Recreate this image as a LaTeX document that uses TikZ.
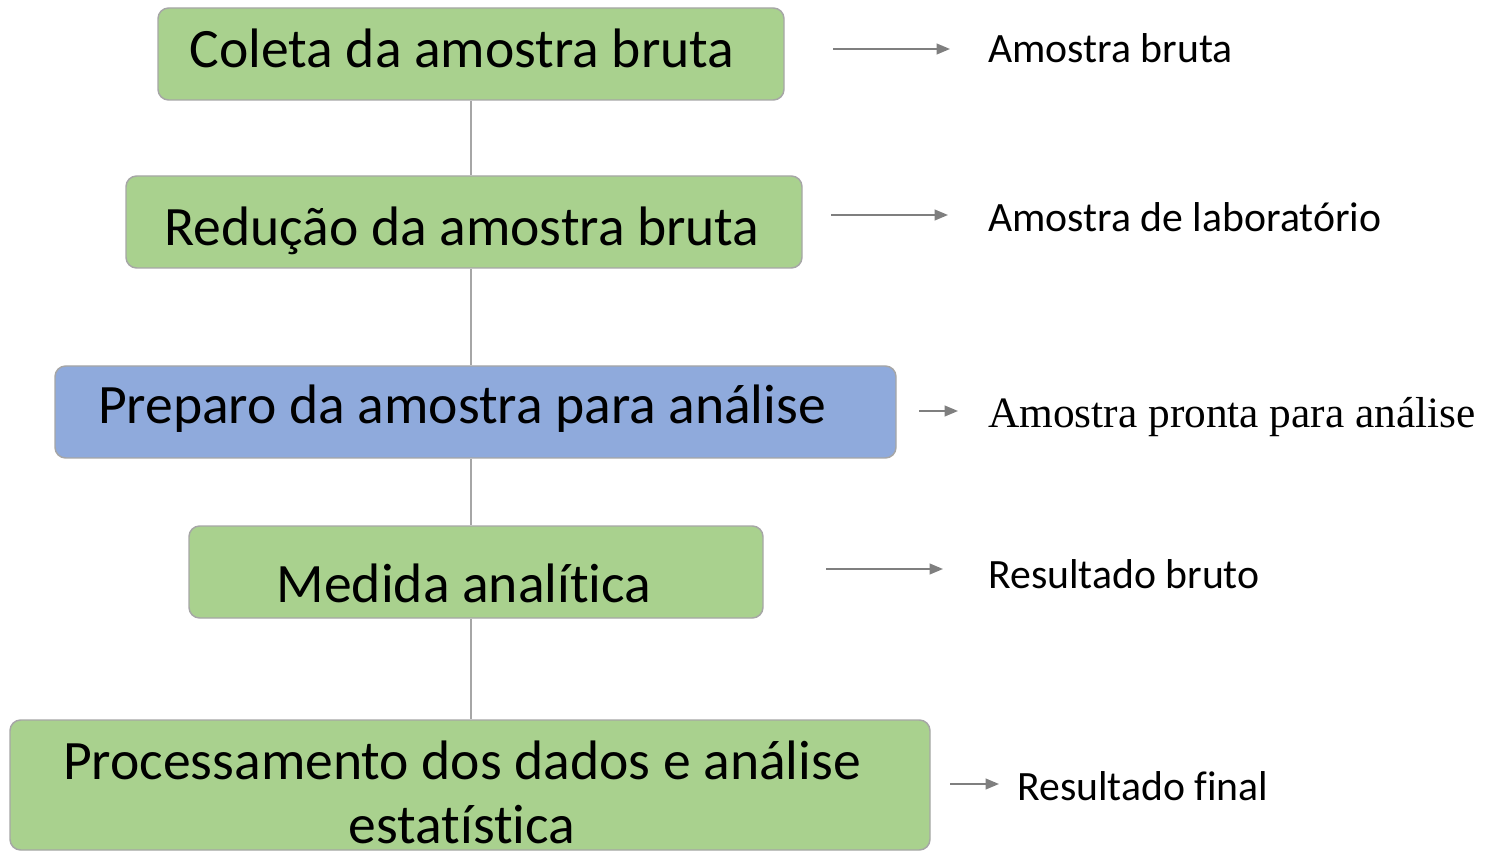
\documentclass[tikz,border=0pt]{standalone}
\usepackage{fontspec}
\setmainfont{Carlito}[Ligatures=NoCommon]
\newfontfamily\timesfont{Liberation Serif}
\usetikzlibrary{arrows.meta,fit}

\definecolor{stepgreen}{HTML}{A9D18E}
\definecolor{stepblue}{HTML}{8FAADC}
\definecolor{edgegray}{HTML}{A6A6A6}
\definecolor{arrowgray}{HTML}{7F7F7F}

\tikzset{
    stepbox/.style={draw=edgegray, line width=1.1pt, rounded corners=8pt, fill=stepgreen, inner sep=0pt},
    steptext/.style={anchor=base, inner sep=0pt, font=\fontsize{41.7}{48}\selectfont},
    outlabel/.style={anchor=base west, inner sep=0pt, font=\fontsize{31.3}{37}\selectfont},
    outarrow/.style={draw=arrowgray, line width=1.5pt, -{Triangle[length=10pt,width=8pt]}},
    stemline/.style={draw=edgegray, line width=1.5pt},
}

\begin{document}
\begin{tikzpicture}[x=0.75pt, y=-0.75pt]
    \useasboundingbox (0,0) rectangle (1490,852);

    % Steps of the analysis
    \node[stepbox, fit={(158,8) (784,100)}] (coleta) {};
    \node[stepbox, fit={(126,176) (802,268)}] (reducao) {};
    \node[stepbox, fill=stepblue, fit={(55,366) (896,458)}] (preparo) {};
    \node[stepbox, fit={(189,526) (763,618)}] (medida) {};
    \node[stepbox, fit={(10,720) (930,850)}] (processo) {};

    \node[steptext] (coleta-txt) at (462,68) {Coleta da amostra bruta};
    \node[steptext] (reducao-txt) at (462,246) {Redução da amostra bruta};
    \node[steptext] (preparo-txt) at (462,424) {Preparo da amostra para análise};
    \node[steptext] (medida-txt) at (464,602) {Medida analítica};
    \node[steptext, align=center] (processo-txt) at (462,843) {Processamento dos dados e análise\\estatística};

    % Vertical line between the steps
    \draw[stemline] (coleta.south -| 471,0) -- (reducao.north -| 471,0);
    \draw[stemline] (reducao.south -| 471,0) -- (preparo.north -| 471,0);
    \draw[stemline] (preparo.south -| 471,0) -- (medida.north -| 471,0);
    \draw[stemline] (medida.south -| 471,0) -- (processo.north -| 471,0);

    % What each step gives
    \coordinate (out1-s) at (833,49);
    \coordinate (out1-e) at (950,49);
    \coordinate (out2-s) at (831,215);
    \coordinate (out2-e) at (948,215);
    \coordinate (out3-s) at (919,411);
    \coordinate (out3-e) at (958,411);
    \coordinate (out4-s) at (826,569);
    \coordinate (out4-e) at (943,569);
    \coordinate (out5-s) at (950,784);
    \coordinate (out5-e) at (999,784);

    \draw[outarrow] (out1-s) -- (out1-e);
    \draw[outarrow] (out2-s) -- (out2-e);
    \draw[outarrow] (out3-s) -- (out3-e);
    \draw[outarrow] (out4-s) -- (out4-e);
    \draw[outarrow] (out5-s) -- (out5-e);

    \node[outlabel] (bruta) at (988,63) {Amostra bruta};
    \node[outlabel] (laboratorio) at (988,232) {Amostra de laboratório};
    \node[outlabel, font=\timesfont\fontsize{32.5}{39}\selectfont] (pronta) at (988,427) {Amostra pronta para análise};
    \node[outlabel] (resbruto) at (988,588) {Resultado bruto};
    \node[outlabel] (resfinal) at (1017,800) {Resultado final};
\end{tikzpicture}
\end{document}
